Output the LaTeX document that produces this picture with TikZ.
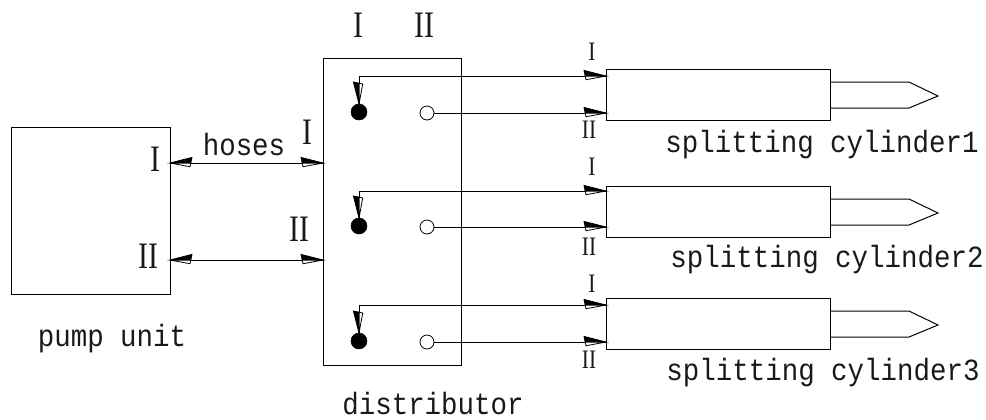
\documentclass[tikz,border=0pt]{standalone}
\usepackage{fontspec}
\newfontfamily\numfont{Liberation Serif}
\newfontfamily\labfont{Liberation Mono}
\usetikzlibrary{calc}
\pgfarrowsdeclare{hb}{hb}{\pgfarrowsleftextend{-16.5pt}\pgfarrowsrightextend{0pt}}{%
  \pgfsetlinewidth{0.6pt}\pgfsetmiterjoin
  \pgfsetfillcolor{white}\pgfsetstrokecolor{black}%
  \pgfpathmoveto{\pgfqpoint{0pt}{0pt}}\pgfpathlineto{\pgfqpoint{-15pt}{-2.8pt}}\pgfpathlineto{\pgfqpoint{-15.6pt}{0pt}}\pgfpathclose\pgfusepathqfillstroke
  \pgfsetfillcolor{black}%
  \pgfpathmoveto{\pgfqpoint{0pt}{0pt}}\pgfpathlineto{\pgfqpoint{-16.5pt}{4.2pt}}\pgfpathlineto{\pgfqpoint{-15.6pt}{0pt}}\pgfpathclose\pgfusepathqfillstroke}
\pgfarrowsdeclare{hbf}{hbf}{\pgfarrowsleftextend{-16.5pt}\pgfarrowsrightextend{0pt}}{%
  \pgfsetlinewidth{0.6pt}\pgfsetmiterjoin
  \pgfsetfillcolor{white}\pgfsetstrokecolor{black}%
  \pgfpathmoveto{\pgfqpoint{0pt}{0pt}}\pgfpathlineto{\pgfqpoint{-15pt}{2.8pt}}\pgfpathlineto{\pgfqpoint{-15.6pt}{0pt}}\pgfpathclose\pgfusepathqfillstroke
  \pgfsetfillcolor{black}%
  \pgfpathmoveto{\pgfqpoint{0pt}{0pt}}\pgfpathlineto{\pgfqpoint{-16.5pt}{-4.2pt}}\pgfpathlineto{\pgfqpoint{-15.6pt}{0pt}}\pgfpathclose\pgfusepathqfillstroke}
\tikzset{
  px/.style={x=0.75pt,y=-0.75pt},
  line/.style={draw=black,line width=0.75pt},
  unitbox/.style={line,rectangle,inner sep=0pt,outer sep=0pt,anchor=north west},
  txt/.style={font=\labfont\fontsize{20.6}{22}\selectfont,inner sep=0pt,text=black!90,yscale=1.12,anchor=base},
  bignum/.style={font=\numfont\fontsize{28}{28}\selectfont,inner sep=0pt,xscale=.8,text=black!90},
  smallnum/.style={font=\numfont\fontsize{20}{20}\selectfont,inner sep=0pt,xscale=.8,text=black!90},
  blackport/.style={circle,fill=black,draw=black,minimum size=12pt,inner sep=0pt,outer sep=0pt},
  openport/.style={circle,draw=black,line width=0.6pt,fill=white,minimum size=10.5pt,inner sep=0pt,outer sep=0pt},
}
\begin{document}
\begin{tikzpicture}[px]
\useasboundingbox (0,0) rectangle (986,419);
% boxes
\node[unitbox,minimum width=119.25pt,minimum height=125.25pt] (pump) at (11,127) {};
\node[unitbox,minimum width=103.5pt,minimum height=230.25pt] (dist) at (323,58) {};
\foreach \n/\y in {1/69,2/186,3/298}{
  \node[unitbox,minimum width=168pt,minimum height=38.5pt] (cyl\n) at (606,\y) {};
  \draw[line] (cyl\n.east |- 0,\y+13) -- (909,\y+13) -- (938,\y+27) -- (909,\y+39) -- (cyl\n.east |- 0,\y+39);
}
% ports
\node[blackport] (a1) at (359,112) {};
\node[openport] (b1) at (427,113) {};
\node[blackport] (a2) at (359,226) {};
\node[openport] (b2) at (427,227) {};
\node[blackport] (a3) at (359,341) {};
\node[openport] (b3) at (427,342) {};
% cylinder ports
\coordinate (c1a) at (606,76);
\coordinate (c1b) at (606,113);
\coordinate (c2a) at (606,191);
\coordinate (c2b) at (606,227);
\coordinate (c3a) at (606,305);
\coordinate (c3b) at (606,342);
\foreach \n in {1,2,3}{
  \draw[line,hb-hbf] (c\n a) -| (a\n.north);
  \draw[line,-hb] (b\n) -- (c\n b);
}
% hoses
\coordinate (p1) at (170,163);
\coordinate (d1) at (323,163);
\coordinate (p2) at (170,260);
\coordinate (d2) at (323,260);
\draw[line,hbf-hb] (p1) -- (d1);
\draw[line,hbf-hb] (p2) -- (d2);
% labels
\node[txt] (hoseslab) at (244,155) {hoses};
\node[txt] (pumplab) at (112,346) {pump unit};
\node[txt] (distlab) at (433,414) {distributor};
\node[txt] (s1) at (822,152) {splitting cylinder1};
\node[txt] (s2) at (827,267) {splitting cylinder2};
\node[txt] (s3) at (823,380) {splitting cylinder3};
\node[bignum] (t1) at (358,25) {I};
\node[bignum] (t2) at (424,25) {II};
\node[bignum] (l1) at (155,159) {I};
\node[bignum] (l2) at (148,256) {II};
\node[bignum] (r1) at (307,132) {I};
\node[bignum] (r2) at (299,229) {II};
\node[smallnum] (n1a) at (592,52) {I};
\node[smallnum] (n1b) at (589,130) {II};
\node[smallnum] (n2a) at (592,167) {I};
\node[smallnum] (n2b) at (589,247) {II};
\node[smallnum] (n3a) at (592,284) {I};
\node[smallnum] (n3b) at (589,360) {II};
\end{tikzpicture}
\end{document}
